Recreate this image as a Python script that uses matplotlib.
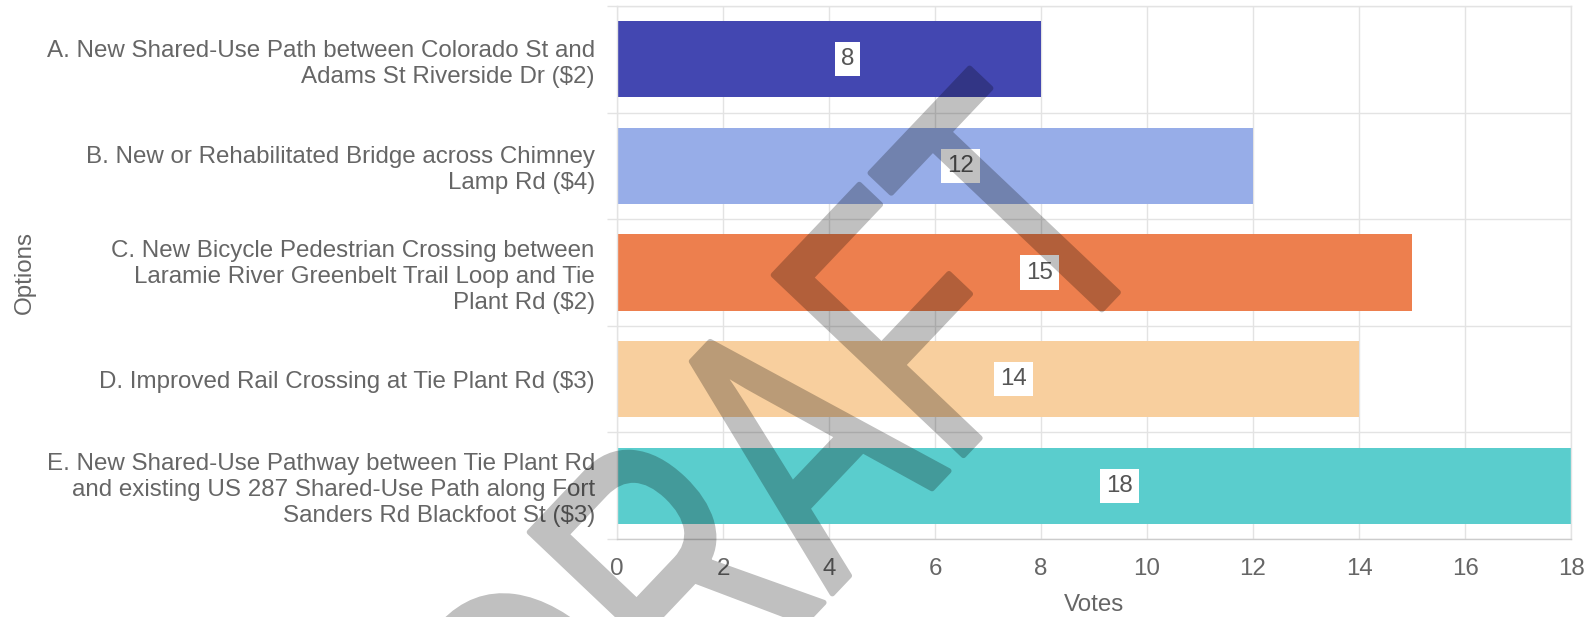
import math
import numpy as np
import matplotlib
matplotlib.use("Agg")
import matplotlib.pyplot as plt
from matplotlib.textpath import TextPath
from matplotlib.font_manager import FontProperties
from matplotlib.patches import PathPatch
from matplotlib.transforms import Affine2D, IdentityTransform
from matplotlib.ticker import FixedLocator

# ---- data ----
categories = [
    "A. New Shared-Use Path between Colorado St and\nAdams St Riverside Dr ($2)",
    "B. New or Rehabilitated Bridge across Chimney\nLamp Rd ($4)",
    "C. New Bicycle Pedestrian Crossing between\nLaramie River Greenbelt Trail Loop and Tie\nPlant Rd ($2)",
    "D. Improved Rail Crossing at Tie Plant Rd ($3)",
    "E. New Shared-Use Pathway between Tie Plant Rd\nand existing US 287 Shared-Use Path along Fort\nSanders Rd Blackfoot St ($3)",
]
votes = [8, 12, 15, 14, 18]
bar_colors = ["#4347B1", "#97ADE8", "#ED7F4E", "#F8CF9E", "#5ACDCD"]
x_ticks = [0, 2, 4, 6, 8, 10, 12, 14, 16, 18]
x_label = "Votes"
y_label = "Options"
watermark = "DRAFT"

FONT = "Liberation Sans"
TXT = "#666666"
GRID = "#e3e3e3"
FS = 17.4

W, H = 1596, 617
fig = plt.figure(figsize=(W / 100, H / 100), dpi=100)
fig.patch.set_facecolor("white")
ax = fig.add_axes([617 / W, 1 - 539 / H, (1571 - 617) / W, (539 - 6) / H])

ypos = list(range(len(categories)))
ax.barh(ypos, votes, height=0.715, color=bar_colors, zorder=2)

ax.set_xlim(0, 18)
ax.set_ylim(len(categories) - 0.5, -0.5)

ax.set_xticks(x_ticks)
ax.set_xticklabels([str(t) for t in x_ticks], fontsize=FS, color=TXT, family=FONT)
ax.set_yticks(ypos)
ax.set_yticklabels(categories, fontsize=FS, color=TXT, family=FONT, ha="right",
                   linespacing=1.24)
ax.yaxis.set_minor_locator(FixedLocator([i - 0.5 for i in range(len(categories) + 1)]))

ax.tick_params(axis="x", which="major", length=0, pad=13.4)
ax.tick_params(axis="y", which="major", length=0, pad=16)
ax.tick_params(axis="y", which="minor", length=7, color=GRID, width=1)

ax.grid(axis="x", which="major", color=GRID, linewidth=1, zorder=0)
ax.grid(axis="y", which="minor", color=GRID, linewidth=1, zorder=0)
ax.set_axisbelow(True)

for s in ["top", "right", "left"]:
    ax.spines[s].set_color(GRID)
    ax.spines[s].set_linewidth(1)
ax.spines["bottom"].set_color("#cccccc")
ax.spines["bottom"].set_linewidth(1)

ax.set_xlabel(x_label, fontsize=FS, color=TXT, family=FONT, labelpad=10.4)
ax.set_ylabel(y_label, fontsize=FS, color=TXT, family=FONT)
ax.yaxis.set_label_coords(-(617 - 36) / (1571 - 617), 0.5)

# value labels
for y, v in zip(ypos, votes):
    ax.annotate(str(v), xy=(v / 2, y), xytext=(12, 0), textcoords="offset pixels",
                ha="left", va="center", fontsize=FS, color="#555555", family=FONT,
                bbox=dict(boxstyle="square,pad=0.25", facecolor="white", edgecolor="none"),
                zorder=5)

# watermark (condensed, thick strokes, flat 25% black)
fp = FontProperties(family=FONT)
tp = TextPath((0, 0), watermark, size=100, prop=fp)
tT = TextPath((0, 0), watermark[-1], size=100, prop=fp)
ext_all = tp.get_extents()
ext_T = tT.get_extents()
cap = ext_T.height
sc = 262.0 / cap
c = 0.67
xTc = ext_all.x1 - ext_T.width / 2.0
ang = math.radians(46.5)
px = c * sc * xTc * math.cos(ang)
py = c * sc * xTc * math.sin(ang)
target = (1110.0, H - 301.0)
tr = Affine2D().scale(c * sc, sc).rotate(ang).translate(target[0] - px, target[1] - py)
wpath = tr.transform_path(tp)


def flat_alpha(img, dpi):
    out = np.zeros_like(img)
    out[..., 3] = np.clip(img[..., 3], 0, 1) * 0.25
    return out, 0, 0


patch = PathPatch(wpath, facecolor="black", edgecolor="black", linewidth=4.0,
                  joinstyle="round", capstyle="round",
                  transform=IdentityTransform(), zorder=10)
patch.set_agg_filter(flat_alpha)
fig.add_artist(patch)

fig.savefig("out.png", dpi=100, facecolor="white")
